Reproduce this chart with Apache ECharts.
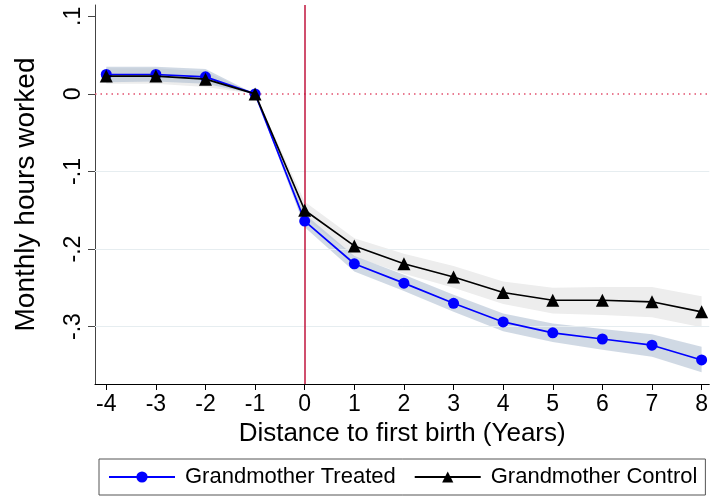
<!DOCTYPE html>
<html>
<head>
<meta charset="utf-8">
<script src="https://cdn.jsdelivr.net/npm/echarts@6/dist/echarts.min.js"></script>
<style>
  html, body { margin: 0; padding: 0; background: #fff; }
  #chart { width: 711px; height: 498px; }
</style>
</head>
<body>
<div id="chart"></div>
<script>
// Event-study estimates: monthly hours worked around the first birth
const years = [-4, -3, -2, -1, 0, 1, 2, 3, 4, 5, 6, 7, 8];

const treated   = [0.025, 0.025, 0.022, 0, -0.164, -0.219, -0.244, -0.270, -0.294, -0.308, -0.316, -0.324, -0.343];
const treatedLo = [0.015, 0.016, 0.013, 0, -0.172, -0.229, -0.254, -0.281, -0.306, -0.320, -0.330, -0.339, -0.359];
const treatedHi = [0.035, 0.035, 0.032, 0, -0.155, -0.209, -0.233, -0.259, -0.283, -0.296, -0.303, -0.310, -0.326];

const control   = [0.023, 0.023, 0.019, 0, -0.150, -0.196, -0.219, -0.236, -0.256, -0.266, -0.266, -0.268, -0.281];
const controlLo = [0.013, 0.013, 0.009, 0, -0.160, -0.210, -0.232, -0.250, -0.271, -0.283, -0.285, -0.288, -0.301];
const controlHi = [0.033, 0.033, 0.029, 0, -0.139, -0.186, -0.206, -0.222, -0.242, -0.250, -0.249, -0.249, -0.261];

const xTicks = [-4, -3, -2, -1, 0, 1, 2, 3, 4, 5, 6, 7, 8];
const yTicks = [-0.3, -0.2, -0.1, 0, 0.1];
const gridYs = [-0.3, -0.2, -0.1];

const FONT = 'Liberation Sans, Arial, sans-serif';

function bandSeries(lo, hi, color, z) {
  return {
    type: 'custom',
    silent: true,
    z: z,
    data: years.map((x, i) => [x, lo[i], hi[i]]),
    encode: { x: 0, y: [1, 2] },
    renderItem: function (params, api) {
      if (params.dataIndex !== 0) return null;
      const upper = years.map((x, i) => api.coord([x, hi[i]]));
      const lower = years.map((x, i) => api.coord([x, lo[i]])).reverse();
      return {
        type: 'polygon',
        shape: { points: upper.concat(lower) },
        style: { fill: color, stroke: null }
      };
    }
  };
}

function fmtY(v) {
  if (Math.abs(v) < 1e-9) return '0';
  const s = Math.abs(v).toFixed(1).replace(/^0/, '');
  return (v < 0 ? '-' : '') + s;
}

const chart = echarts.init(document.getElementById('chart'), null, { renderer: 'canvas' });

chart.setOption({
  animation: false,
  backgroundColor: '#ffffff',
  textStyle: { fontFamily: FONT },
  grid: { left: 95, right: 0, top: 5, bottom: 114, containLabel: false },
  xAxis: {
    type: 'value',
    min: -4.227,
    max: 8.155,
    name: 'Distance to first birth (Years)',
    nameLocation: 'middle',
    nameGap: 34,
    nameTextStyle: { fontSize: 26, color: '#000', fontFamily: FONT },
    axisLine: { show: true, onZero: false, lineStyle: { color: '#000', width: 1 } },
    axisTick: { show: true, customValues: xTicks, length: 6, lineStyle: { color: '#000' } },
    axisLabel: { customValues: xTicks, fontSize: 23, color: '#000', margin: 9, fontFamily: FONT },
    splitLine: { show: false }
  },
  yAxis: {
    type: 'value',
    min: -0.374,
    max: 0.1146,
    name: 'Monthly hours worked',
    nameLocation: 'middle',
    nameRotate: 90,
    nameGap: 55,
    nameTextStyle: { fontSize: 28, color: '#000', fontFamily: FONT },
    axisLine: { show: true, onZero: false, lineStyle: { color: '#444', width: 1 } },
    axisTick: { show: true, customValues: yTicks, length: 7, lineStyle: { color: '#444' } },
    axisLabel: { customValues: yTicks, rotate: 90, fontSize: 23, color: '#000', margin: 10, fontFamily: FONT, formatter: fmtY },
    splitLine: { show: false }
  },
  legend: {
    left: 99,
    right: 0,
    top: 459,
    padding: [7, 8, 7, 9],
    borderColor: '#555',
    borderWidth: 1,
    itemWidth: 66,
    itemHeight: 14,
    itemGap: 18,
    textStyle: { fontSize: 22, color: '#000', fontFamily: FONT, padding: [0, 0, 0, 5] },
    data: ['Grandmother Treated', 'Grandmother Control']
  },
  series: [
    bandSeries(controlLo, controlHi, '#ededed', 1),
    bandSeries(treatedLo, treatedHi, 'rgba(170,185,205,0.55)', 2),
    {
      // reference lines: light gridlines, dotted zero line, event line at birth
      type: 'line',
      data: [],
      silent: true,
      z: 3,
      markLine: {
        silent: true,
        symbol: 'none',
        label: { show: false },
        animation: false,
        data: gridYs.map(v => ({ yAxis: v, lineStyle: { color: '#e6edf0', width: 1, type: 'solid' } }))
          .concat([
            { yAxis: 0, lineStyle: { color: '#e2506e', width: 1.5, type: [1.5, 4] } },
            { xAxis: 0, lineStyle: { color: '#c0143c', width: 1.5, type: 'solid' } }
          ])
      }
    },
    {
      name: 'Grandmother Treated',
      type: 'line',
      z: 5,
      data: years.map((x, i) => [x, treated[i]]),
      symbol: 'circle',
      symbolSize: 11,
      showAllSymbol: true,
      itemStyle: { color: '#0000ff' },
      lineStyle: { color: '#0000ff', width: 1.7 }
    },
    {
      name: 'Grandmother Control',
      type: 'line',
      z: 6,
      data: years.map((x, i) => [x, control[i]]),
      symbol: 'triangle',
      symbolSize: 13,
      showAllSymbol: true,
      itemStyle: { color: '#000000' },
      lineStyle: { color: '#000000', width: 1.7 }
    }
  ]
});
</script>
</body>
</html>
